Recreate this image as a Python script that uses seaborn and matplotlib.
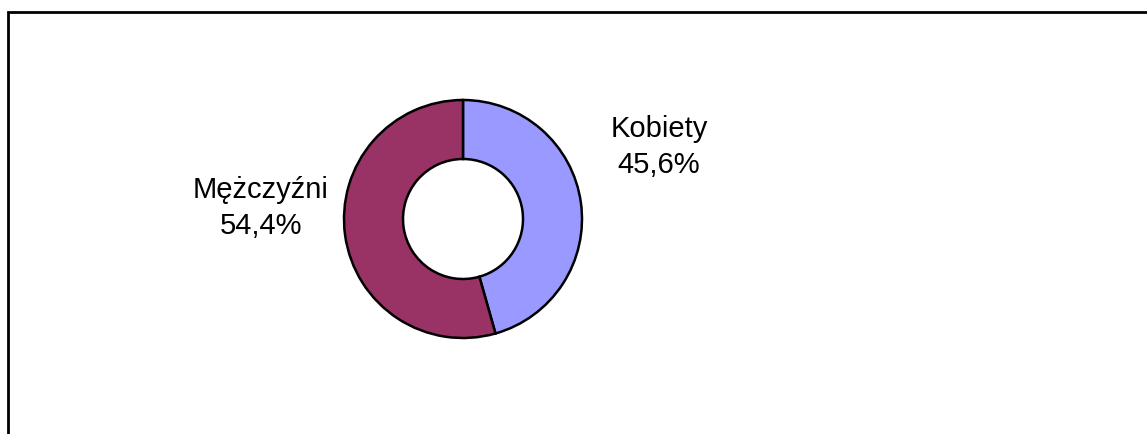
import matplotlib
matplotlib.use("Agg")
import matplotlib.pyplot as plt
import seaborn as sns


labels = ["Kobiety", "Mężczyźni"]
shares = [45.6, 54.4]
colors = ["#9999FF", "#993366"]


def fmt_pct(v):
    return f"{v:.1f}%".replace(".", ",")


def draw_donut():
    sns.set_theme(style="white")
    plt.rcParams["font.family"] = ["Liberation Sans", "DejaVu Sans"]

    W, H = 1147, 434
    fig = plt.figure(figsize=(W / 100, H / 100), dpi=100)
    ax = fig.add_axes([0, 0, 1, 1])

    # outer frame, only left and top edges are visible in the crop
    ax.plot([8, 8, W + 20], [-20, H - 12, H - 12], color="black", lw=2,
            solid_joinstyle="miter", clip_on=False)

    ax.pie(shares, colors=colors, startangle=90, counterclock=False,
           center=(463, H - 219), radius=119, frame=True,
           wedgeprops=dict(width=59, edgecolor="black", linewidth=1.8))
    ax.set_xlim(0, W)
    ax.set_ylim(0, H)
    ax.set_aspect("equal")
    ax.axis("off")

    label_pos = [(659, H - 147), (261, H - 208)]
    for name, val, (x, y) in zip(labels, shares, label_pos):
        ax.text(x, y, f"{name}\n{fmt_pct(val)}", ha="center", va="center",
                fontsize=21, linespacing=1.33, color="black")

    fig.savefig("out.png", dpi=100, facecolor="white")
    plt.close(fig)


if __name__ == "__main__":
    draw_donut()
